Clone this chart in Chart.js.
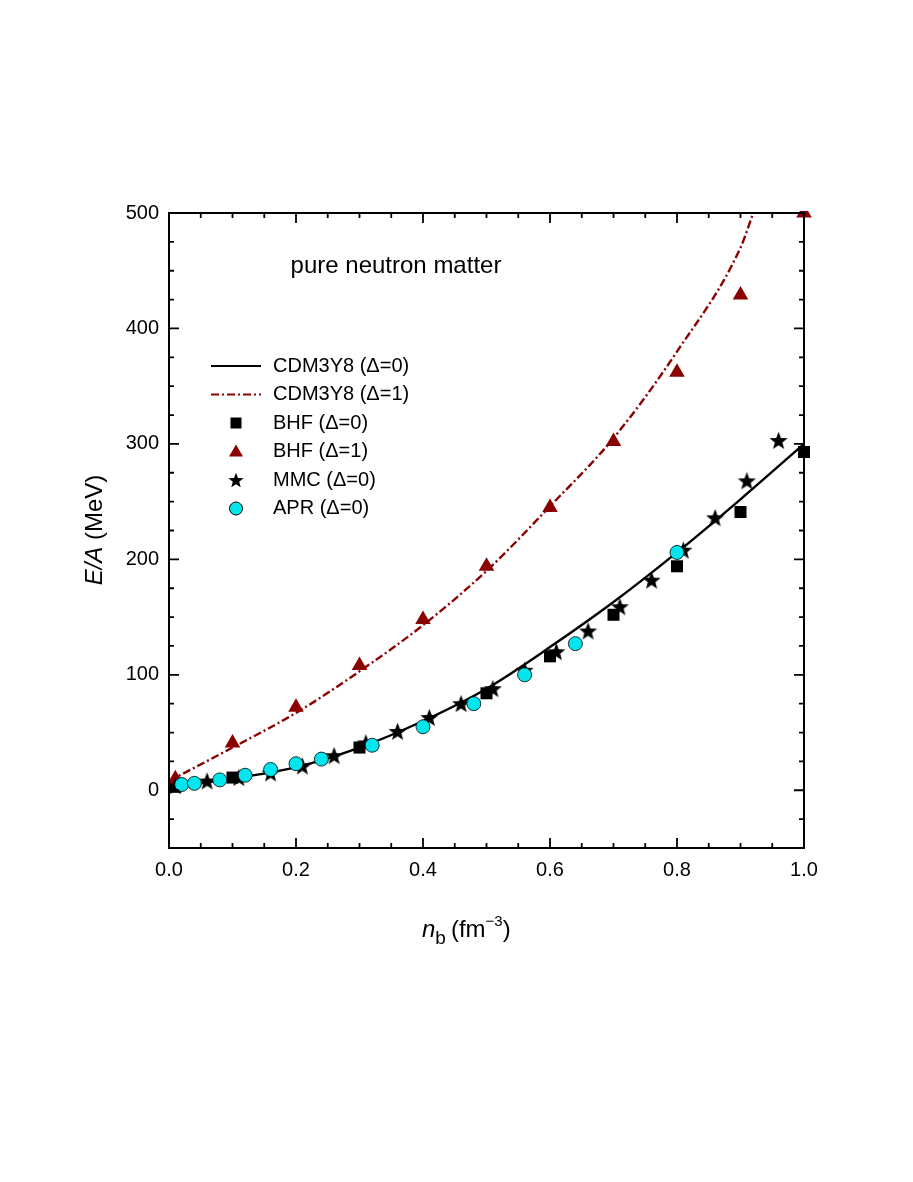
<!DOCTYPE html>
<html>
<head>
<meta charset="utf-8">
<script src="https://cdn.jsdelivr.net/npm/chart.js@4.4.0/dist/chart.umd.min.js"></script>
<style>
  html, body { margin: 0; padding: 0; background: #fff; }
  canvas { display: block; }
</style>
</head>
<body>
<canvas id="chart" width="913" height="1182"></canvas>
<script>
'use strict';

// CDM3Y8 curves
const cdmX = [0, 0.1, 0.2, 0.3, 0.4, 0.5, 0.6, 0.7, 0.8, 0.9, 1.0];
const cdm0 = [3, 10, 20, 37, 60, 88, 124, 163, 206, 252, 300];
const cdm1X = [0, 0.1, 0.2, 0.3, 0.4, 0.5, 0.6, 0.7, 0.8, 0.9, 0.92];
const cdm1 = [8, 37, 67, 103, 143, 190, 246, 305, 380, 470, 500];

const bhf0X = [0.01, 0.1, 0.3, 0.5, 0.6, 0.7, 0.8, 0.9, 1.0];
const bhf0 = [3, 11, 37, 84, 116, 152, 194, 241, 293];

const bhf1X = [0.01, 0.1, 0.2, 0.3, 0.4, 0.5, 0.6, 0.7, 0.8, 0.9, 1.0];
const bhf1 = [10, 41, 72, 108, 148, 194, 245, 302, 362, 429, 500];

const mmcX = [0.01, 0.06, 0.11, 0.16, 0.21, 0.26, 0.31, 0.36, 0.41, 0.46, 0.51, 0.56, 0.61, 0.66, 0.71, 0.76, 0.81, 0.86, 0.91, 0.96];
const mmc = [4, 8, 11, 15, 21, 30, 41, 51, 63, 75, 88, 104, 120, 138, 159, 182, 208, 236, 268, 303];

const aprX = [0.02, 0.04, 0.08, 0.12, 0.16, 0.2, 0.24, 0.32, 0.40, 0.48, 0.56, 0.64, 0.80];
const apr = [5, 6, 9, 13, 18, 23, 27, 39, 55, 75, 100, 127, 206];

const xTicks = [0, 0.2, 0.4, 0.6, 0.8, 1.0];
const yTicks = [0, 100, 200, 300, 400, 500];

const DARKRED = '#8b0000';
const FONT = '"Liberation Sans", Arial, sans-serif';
const pts = (xs, ys) => xs.map((x, i) => ({ x, y: ys[i] }));

function starImage(size, color) {
  const c = document.createElement('canvas');
  c.width = size; c.height = size;
  const g = c.getContext('2d');
  const cx = size / 2, cy = size / 2 + 0.8, R = size / 2, r = R * 0.42;
  g.beginPath();
  for (let i = 0; i < 10; i++) {
    const a = -Math.PI / 2 + i * Math.PI / 5;
    const rr = i % 2 ? r : R;
    g.lineTo(cx + rr * Math.cos(a), cy + rr * Math.sin(a));
  }
  g.closePath();
  g.fillStyle = color;
  g.fill();
  return c;
}
const star = starImage(19, '#000');
const starSmall = starImage(16, '#000');

const decorPlugin = {
  id: 'decor',
  afterDraw(chart) {
    const { ctx, chartArea: a, scales: { x, y } } = chart;
    ctx.save();
    ctx.strokeStyle = '#000';
    ctx.lineWidth = 2;
    ctx.strokeRect(a.left, a.top, a.right - a.left, a.bottom - a.top);
    ctx.lineWidth = 1.8;
    ctx.beginPath();
    for (let i = 0; i <= 20; i++) {
      const px = x.getPixelForValue(i * 0.05);
      const len = i % 4 === 0 ? 10 : 5;
      ctx.moveTo(px, a.bottom); ctx.lineTo(px, a.bottom - len);
      ctx.moveTo(px, a.top); ctx.lineTo(px, a.top + len);
    }
    for (let v = -50; v <= 500; v += 25) {
      const py = y.getPixelForValue(v);
      const len = v % 100 === 0 ? 10 : 5;
      ctx.moveTo(a.left, py); ctx.lineTo(a.left + len, py);
      ctx.moveTo(a.right, py); ctx.lineTo(a.right - len, py);
    }
    ctx.stroke();

    ctx.fillStyle = '#000';
    ctx.font = '20px ' + FONT;
    ctx.textAlign = 'center'; ctx.textBaseline = 'top';
    xTicks.forEach(v => ctx.fillText(v.toFixed(1), x.getPixelForValue(v), a.bottom + 12));
    ctx.textAlign = 'right'; ctx.textBaseline = 'middle';
    yTicks.forEach(v => ctx.fillText(String(v), a.left - 10, y.getPixelForValue(v)));

    // annotation
    ctx.font = '24px ' + FONT;
    ctx.textAlign = 'center'; ctx.textBaseline = 'middle';
    ctx.fillText('pure neutron matter', 396, 266);

    // y title
    ctx.save();
    ctx.translate(95, 530);
    ctx.rotate(-Math.PI / 2);
    const t1 = 'E/A', t2 = ' (MeV)';
    ctx.font = 'italic 24px ' + FONT;
    const w1 = ctx.measureText(t1).width;
    ctx.font = '24px ' + FONT;
    const w2 = ctx.measureText(t2).width;
    ctx.textAlign = 'left';
    ctx.font = 'italic 24px ' + FONT;
    ctx.fillText(t1, -(w1 + w2) / 2, 0);
    ctx.font = '24px ' + FONT;
    ctx.fillText(t2, -(w1 + w2) / 2 + w1, 0);
    ctx.restore();

    // x title: n_b (fm^-3)
    ctx.textAlign = 'left'; ctx.textBaseline = 'alphabetic';
    let xp = 422; const yb = 937;
    ctx.font = 'italic 24px ' + FONT; ctx.fillText('n', xp, yb); xp += ctx.measureText('n').width;
    ctx.font = '19px ' + FONT; ctx.fillText('b', xp, yb + 7); xp += ctx.measureText('b').width + 5;
    ctx.font = '24px ' + FONT; ctx.fillText('(fm', xp, yb); xp += ctx.measureText('(fm').width;
    ctx.font = '15px ' + FONT; ctx.fillText('\u22123', xp, yb - 11); xp += ctx.measureText('\u22123').width;
    ctx.font = '24px ' + FONT; ctx.fillText(')', xp, yb);

    // legend
    ctx.font = '20px ' + FONT;
    ctx.textBaseline = 'middle';
    const items = ['CDM3Y8 (\u0394=0)', 'CDM3Y8 (\u0394=1)', 'BHF (\u0394=0)', 'BHF (\u0394=1)', 'MMC (\u0394=0)', 'APR (\u0394=0)'];
    const lx = 273, sx = 236;
    items.forEach((t, i) => {
      const ly = 366 + i * 28.5;
      ctx.fillStyle = '#000';
      ctx.fillText(t, lx, ly);
      if (i === 0) {
        ctx.strokeStyle = '#000'; ctx.lineWidth = 2; ctx.setLineDash([]);
        ctx.beginPath(); ctx.moveTo(211, ly); ctx.lineTo(261, ly); ctx.stroke();
      } else if (i === 1) {
        ctx.strokeStyle = DARKRED; ctx.lineWidth = 2; ctx.setLineDash([8, 3, 2, 3]);
        ctx.beginPath(); ctx.moveTo(211, ly); ctx.lineTo(261, ly); ctx.stroke();
        ctx.setLineDash([]);
      } else if (i === 2) {
        ctx.fillRect(sx - 5.5, ly - 5.5, 11, 11);
      } else if (i === 3) {
        ctx.fillStyle = DARKRED;
        ctx.beginPath(); ctx.moveTo(sx, ly - 7); ctx.lineTo(sx + 7, ly + 5); ctx.lineTo(sx - 7, ly + 5); ctx.closePath(); ctx.fill();
      } else if (i === 4) {
        ctx.drawImage(starSmall, sx - 8, ly - 8);
      } else {
        ctx.fillStyle = '#00e5ee'; ctx.strokeStyle = '#000'; ctx.lineWidth = 1;
        ctx.beginPath(); ctx.arc(sx, ly, 6.5, 0, Math.PI * 2); ctx.fill(); ctx.stroke();
      }
    });
    ctx.restore();
  }
};

new Chart(document.getElementById('chart'), {
  type: 'scatter',
  data: {
    datasets: [
      { label: 'CDM3Y8 (Δ=0)', data: pts(cdmX, cdm0), showLine: true, borderColor: '#000', borderWidth: 2.4, pointRadius: 0, cubicInterpolationMode: 'monotone', order: 6 },
      { label: 'CDM3Y8 (Δ=1)', data: pts(cdm1X, cdm1), showLine: true, borderColor: DARKRED, borderWidth: 2.4, borderDash: [8, 3, 2, 3], pointRadius: 0, cubicInterpolationMode: 'monotone', order: 5 },
      { label: 'BHF (Δ=0)', data: pts(bhf0X, bhf0), pointStyle: 'rect', pointRadius: 8.5, backgroundColor: '#000', borderColor: '#000', borderWidth: 0, order: 4 },
      { label: 'BHF (Δ=1)', data: pts(bhf1X, bhf1), pointStyle: 'triangle', pointRadius: 9, backgroundColor: DARKRED, borderColor: DARKRED, borderWidth: 0, order: 3 },
      { label: 'MMC (Δ=0)', data: pts(mmcX, mmc), pointStyle: star, order: 2 },
      { label: 'APR (Δ=0)', data: pts(aprX, apr), pointStyle: 'circle', pointRadius: 7, backgroundColor: '#00e5ee', borderColor: '#000', borderWidth: 0.8, order: 1 }
    ]
  },
  options: {
    responsive: false,
    animation: false,
    clip: { left: 0, right: 8, top: 2, bottom: 0 },
    layout: { padding: { left: 0, right: 109, top: 213, bottom: 234 } },
    plugins: { legend: { display: false }, tooltip: { enabled: false } },
    scales: {
      x: {
        type: 'linear', min: 0, max: 1.0,
        grid: { display: false }, border: { display: false },
        ticks: { display: false },
        afterFit: s => { s.height = 100; }
      },
      y: {
        type: 'linear', min: -50, max: 500,
        grid: { display: false }, border: { display: false },
        ticks: { display: false },
        afterFit: s => { s.width = 169; }
      }
    }
  },
  plugins: [decorPlugin]
});
</script>
</body>
</html>
